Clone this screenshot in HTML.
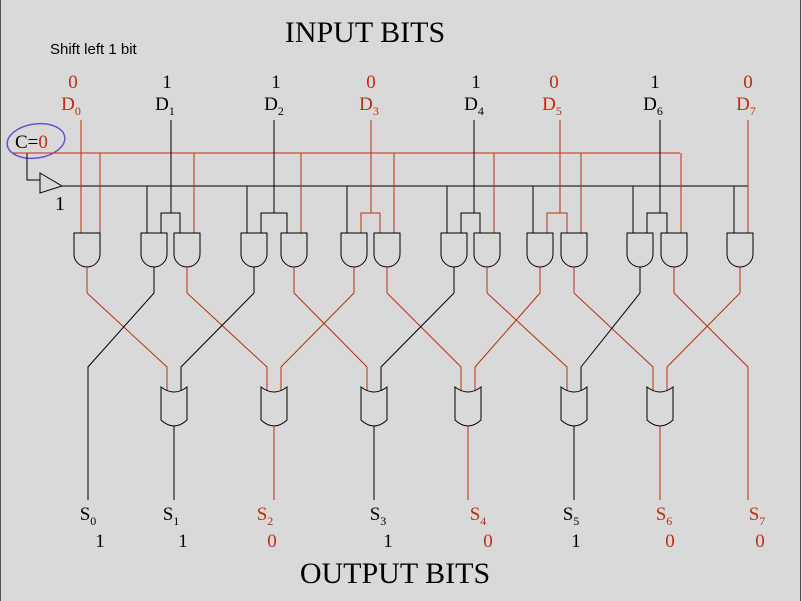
<!DOCTYPE html>
<html><head><meta charset="utf-8"><style>
html,body{margin:0;padding:0;background:#d9d9d9}
svg{display:block}
text{font-family:"Liberation Serif",serif}
</style></head><body>
<svg id="c" width="802" height="601" viewBox="0 0 802 601" xmlns="http://www.w3.org/2000/svg">
<rect x="0" y="0" width="802" height="601" fill="#d9d9d9"/>
<line x1="0.5" y1="0" x2="0.5" y2="601" stroke="#555"/>
<line x1="800.5" y1="0" x2="800.5" y2="601" stroke="#555"/>
<text x="365" y="42" font-size="30" text-anchor="middle">INPUT BITS</text>
<text x="50" y="54" font-size="15" style="font-family:'Liberation Sans',sans-serif">Shift left 1 bit</text>
<text x="395" y="583" font-size="30" text-anchor="middle">OUTPUT BITS</text>
<text x="15" y="148" font-size="19">C=<tspan fill="#b83010">0</tspan></text>
<ellipse cx="36" cy="141" rx="29" ry="17" fill="none" stroke="#6a4fd0" stroke-width="1.5" transform="rotate(-8 36 141)"/>
<polyline points="27,153 27,180 40,180" fill="none" stroke="#000"/>
<polygon points="40,173 62,186 40,193" fill="none" stroke="#000"/>
<text x="55" y="210" font-size="20">1</text>
<line x1="13" y1="153" x2="680" y2="153" stroke="#b83010"/>
<line x1="62" y1="186" x2="748" y2="186" stroke="#000"/>
<g id="g"></g>
</svg>
<script>
const inBits=[0,1,1,0,1,0,1,0];
const outBits=[1,1,0,1,0,1,0,0];
const dX=[81,171,274,371,474,560,660,748];
const inLabelX=[73,167,276,371,476,554,655,748];
const outLabelX=[88,171,265,378,478,571,664,757];
const outValX=[100,183,272,388,488,576,670,760];
const andX=[87,154,187,254,294,354,387,454,487,540,574,640,674,740];
const orX=[174,274,374,468,574,660];
const RED="#b83010",BLK="#000";
const g=document.getElementById('g');
const NS="http://www.w3.org/2000/svg";
function mk(t,a){const e=document.createElementNS(NS,t);for(const k in a)e.setAttribute(k,a[k]);g.appendChild(e);return e;}
function col(v){return v?BLK:RED;}
for(let i=0;i<8;i++){
  const c=col(inBits[i]);
  let t=mk('text',{x:inLabelX[i],y:88,'font-size':19,'text-anchor':'middle',fill:c});
  t.textContent=inBits[i];
  
  
  t=mk('text',{x:inLabelX[i]-2,y:110,'font-size':19,'text-anchor':'middle',fill:c});
  t.innerHTML='D<tspan font-size="12" dy="5">'+i+'</tspan>';
  
  
}
for(let i=0;i<8;i++){
  const c=col(outBits[i]);
  let t=mk('text',{x:outLabelX[i],y:520,'font-size':19,'text-anchor':'middle',fill:c});
  t.innerHTML='S<tspan font-size="12" dy="5">'+i+'</tspan>';
  
  
  t=mk('text',{x:outValX[i],y:547,'font-size':19,'text-anchor':'middle',fill:c});
  t.textContent=outBits[i];
  
  
}
const andOut=[];
function andGate(x,o,name){
  let p=mk('path',{d:`M${x-13} 233H${x+13}V254A13 13 0 0 1 ${x-13} 254Z`,fill:'none',stroke:'#000'});
  
  
  let l=mk('line',{x1:x,y1:267,x2:x,y2:293,stroke:col(o)});
  
  
}
function wire(pts,c,name){
  const l=mk('polyline',{points:pts,fill:'none',stroke:c});
  
  
}
andOut[0]=0;
wire(`${dX[0]},120 ${dX[0]},233`,col(inBits[0]),'d0-wire');
wire(`100,153 100,233`,RED,'carry-to-and0');
andGate(87,0,'and-gate-0');
for(let i=1;i<=6;i++){
  const L=andX[2*i-1],R=andX[2*i],c=col(inBits[i]);
  const a=L+7,b=R-7,m=dX[i];
  wire(`${m},120 ${m},213`,c,'d'+i+'-wire');
  wire(`${a},233 ${a},213 ${b},213 ${b},233`,c,'d'+i+'-split');
  wire(`${L-7},186 ${L-7},233`,BLK,'bus-to-and'+i+'a');
  wire(`${R+7},153 ${R+7},233`,RED,'carry-to-and'+i+'b');
  andOut[2*i-1]=inBits[i];andOut[2*i]=0;
  andGate(L,inBits[i],'and-gate-'+i+'a');
  andGate(R,0,'and-gate-'+i+'b');
}
wire(`${dX[7]},120 ${dX[7]},233`,col(inBits[7]),'d7-wire');
wire(`734,186 734,233`,BLK,'bus-to-and7');
andOut[13]=inBits[7];
andGate(740,inBits[7],'and-gate-7');
const dest=[orX[0]-7,outLabelX[0],orX[1]-7,orX[0]+7,orX[2]-7,orX[1]+7,orX[3]-7,orX[2]+7,orX[4]-7,orX[3]+7,orX[5]-7,orX[4]+7,748,orX[5]+7];
for(let k=0;k<14;k++){
  const x=andX[k],t=dest[k];
  const end=(k==1||k==12)?500:392;
  wire(`${x},293 ${t},367 ${t},${end}`,col(andOut[k]),'and-output-route-'+k);
}
for(let j=0;j<6;j++){
  const c=orX[j];
  const p=mk('path',{d:`M${c-13} 387Q${c} 397 ${c+13} 387V420Q${c} 432 ${c-13} 420Z`,fill:'#d9d9d9',stroke:'#000'});
  
  
  wire(`${c},426 ${c},500`,col(outBits[j+1]),'or-output-'+(j+1));
}
</script>
</body></html>
